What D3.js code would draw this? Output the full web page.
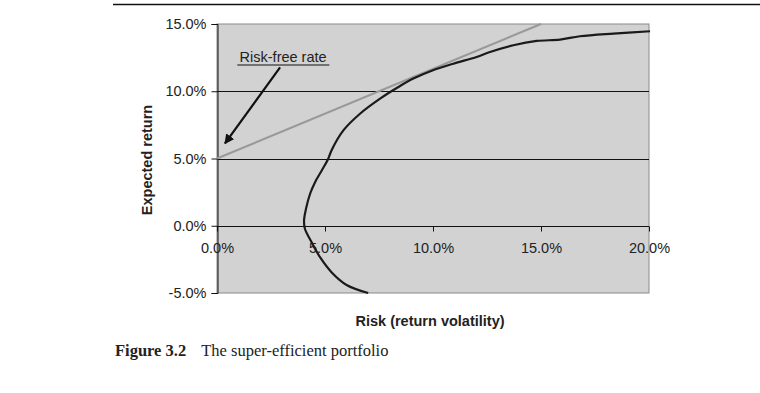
<!DOCTYPE html>
<html>
<head>
<meta charset="utf-8">
<script src="https://cdn.jsdelivr.net/npm/d3@7"></script>
<style>
  body { margin: 0; background: #fff; }
  svg { display: block; }
</style>
</head>
<body>
<script>
var width = 760,
    height = 393;

// efficient frontier (risk %, return %)
var frontierRisk   = [7.0, 6.0, 5.3, 4.77, 4.38, 4.07, 4.03, 4.12, 4.31, 4.54, 4.85, 5.15, 5.3, 5.85, 6.62, 7.55, 8.32, 9.09, 10.0, 10.94, 12.02, 12.64, 13.72, 14.8, 15.88, 16.8, 18.35, 20.05];
var frontierReturn = [-5.0, -4.4, -3.45, -2.34, -1.22, -0.22, 0.39, 1.26, 2.38, 3.24, 4.11, 4.98, 5.6, 7.09, 8.33, 9.45, 10.24, 10.94, 11.56, 12.05, 12.55, 12.92, 13.42, 13.74, 13.84, 14.09, 14.29, 14.46];

// capital market line from the risk-free rate
var cmlRisk   = [0, 15],
    cmlReturn = [5, 15];

var xTicks = [0, 5, 10, 15, 20],
    yTicks = [-5, 0, 5, 10, 15];

var svg = d3.select("body")
            .append("svg")
            .attr("width", width)
            .attr("height", height);

var x = d3.scaleLinear().domain([0, 20]).range([217, 649]),
    y = d3.scaleLinear().domain([-5, 15]).range([293, 24]);

var fmt = function(d) { return d.toFixed(1) + "%"; };
var sans = "'Liberation Sans', Arial, sans-serif";

// rule across the top of the page
svg.append("line")
   .attr("x1", 113).attr("x2", width)
   .attr("y1", 4.5).attr("y2", 4.5)
   .attr("stroke", "#111").attr("stroke-width", 1.3);

// plot area
svg.append("rect")
   .attr("x", x(0)).attr("y", y(15))
   .attr("width", x(20) - x(0)).attr("height", y(-5) - y(15))
   .attr("fill", "#d2d2d2")
   .attr("stroke", "#8a8a8a").attr("stroke-width", 1);

// gridlines
svg.selectAll(".grid")
   .data([5, 10])
   .enter().append("line")
   .attr("x1", x(0)).attr("x2", x(20))
   .attr("y1", function(d) { return Math.round(y(d)) + 0.5; })
   .attr("y2", function(d) { return Math.round(y(d)) + 0.5; })
   .attr("stroke", "#111").attr("stroke-width", 1);

// y axis
var yAxis = svg.append("g")
   .attr("transform", "translate(" + (x(0) + 0.5) + ",0)")
   .call(d3.axisLeft(y).tickValues(yTicks).tickFormat(fmt).tickSize(6).tickPadding(5));

// x axis sits on zero return
var xAxis = svg.append("g")
   .attr("transform", "translate(0," + (Math.round(y(0)) + 0.5) + ")")
   .call(d3.axisBottom(x).tickValues(xTicks).tickFormat(fmt).tickSize(5).tickPadding(11));

[yAxis, xAxis].forEach(function(g) {
  g.select(".domain").attr("stroke", "#111");
  g.selectAll(".tick line").attr("stroke", "#111");
  g.selectAll("text")
   .attr("font-family", sans)
   .attr("font-size", 14.5)
   .attr("fill", "#222");
});
xAxis.select(".domain").attr("d", "M" + x(0) + ",0H" + x(20));

// capital market line
svg.append("path")
   .datum(d3.range(cmlRisk.length))
   .attr("fill", "none")
   .attr("stroke", "#999")
   .attr("stroke-width", 2)
   .attr("d", d3.line()
       .x(function(i) { return x(cmlRisk[i]); })
       .y(function(i) { return y(cmlReturn[i]); }));

// frontier
svg.append("path")
   .datum(d3.range(frontierRisk.length))
   .attr("fill", "none")
   .attr("stroke", "#1a1a1a")
   .attr("stroke-width", 2.2)
   .attr("stroke-linejoin", "round")
   .attr("d", d3.line()
       .curve(d3.curveCatmullRom)
       .x(function(i) { return x(frontierRisk[i]); })
       .y(function(i) { return y(frontierReturn[i]); }));

// annotation
svg.append("defs").append("marker")
   .attr("id", "arrow")
   .attr("viewBox", "0 0 10 10")
   .attr("refX", 9).attr("refY", 5)
   .attr("markerWidth", 4.5).attr("markerHeight", 4.5)
   .attr("orient", "auto")
   .append("path").attr("d", "M0,0L10,5L0,10z").attr("fill", "#111");

svg.append("text")
   .attr("x", x(3.06)).attr("y", y(12.15))
   .attr("text-anchor", "middle")
   .attr("font-family", sans)
   .attr("font-size", 14.5)
   .attr("fill", "#222")
   .text("Risk-free rate");

svg.append("line")
   .attr("x1", x(0.94)).attr("x2", x(5.2))
   .attr("y1", y(11.95)).attr("y2", y(11.95))
   .attr("stroke", "#111").attr("stroke-width", 1.2);

svg.append("line")
   .attr("x1", x(2.92)).attr("y1", y(11.78))
   .attr("x2", x(0.37)).attr("y2", y(6.12))
   .attr("stroke", "#111").attr("stroke-width", 2.2)
   .attr("marker-end", "url(#arrow)");

// axis titles
svg.append("text")
   .attr("transform", "translate(152,160) rotate(-90)")
   .attr("text-anchor", "middle")
   .attr("font-family", sans)
   .attr("font-size", 14.5)
   .attr("font-weight", "bold")
   .attr("fill", "#222")
   .text("Expected return");

svg.append("text")
   .attr("x", 430).attr("y", 326)
   .attr("text-anchor", "middle")
   .attr("font-family", sans)
   .attr("font-size", 14.5)
   .attr("font-weight", "bold")
   .attr("fill", "#222")
   .text("Risk (return volatility)");

// caption
var cap = svg.append("text")
   .attr("x", 115).attr("y", 356)
   .attr("font-family", "'Liberation Serif', 'Times New Roman', serif")
   .attr("font-size", 16.5)
   .attr("fill", "#222");
cap.append("tspan").attr("font-weight", "bold").text("Figure 3.2");
cap.append("tspan").attr("dx", 15).text("The super-efficient portfolio");
</script>
</body>
</html>
